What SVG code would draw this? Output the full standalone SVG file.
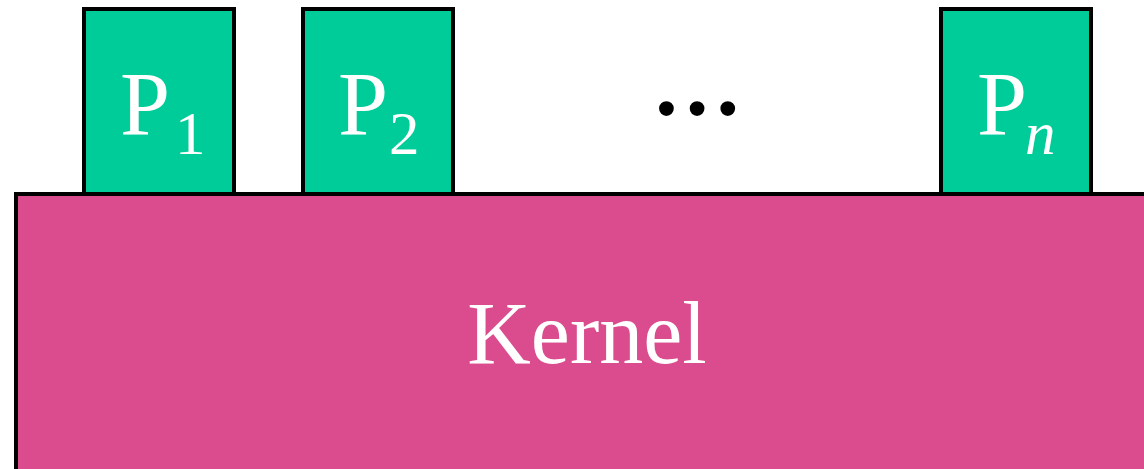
<svg xmlns="http://www.w3.org/2000/svg" width="1144" height="469" viewBox="0 0 1144 469">
<style>
.proc{fill:#00CC99;stroke:#000;stroke-width:4}
.kern{fill:#DB4C8F;stroke:#000;stroke-width:4}
.t{font-family:"Liberation Serif","Times New Roman",serif;fill:#fff}
</style>
<rect width="1144" height="469" fill="#fff"/>
<g id="p1">
<rect class="proc" x="84" y="9" width="150" height="185"/>
<text class="t" x="120" y="135" font-size="90">P</text>
<text class="t" x="175" y="154" font-size="61">1</text>
</g>
<g id="p2">
<rect class="proc" x="303" y="9" width="150" height="185"/>
<text class="t" x="338" y="135" font-size="90">P</text>
<text class="t" x="389" y="154" font-size="61">2</text>
</g>
<g id="dots">
<text x="697" y="115" font-size="91" font-weight="bold" text-anchor="middle" font-family="Liberation Serif, serif" fill="#000">…</text>
</g>
<g id="pn">
<rect class="proc" x="941" y="9" width="150" height="185"/>
<text class="t" x="977" y="135" font-size="90">P</text>
<text class="t" x="1025" y="154" font-size="61" font-style="italic">n</text>
</g>
<g id="kernel">
<rect class="kern" x="16" y="194" width="1140" height="290"/>
<text class="t" x="587" y="363" font-size="88" text-anchor="middle">Kernel</text>
</g>
<g id="connectors"/>
</svg>
